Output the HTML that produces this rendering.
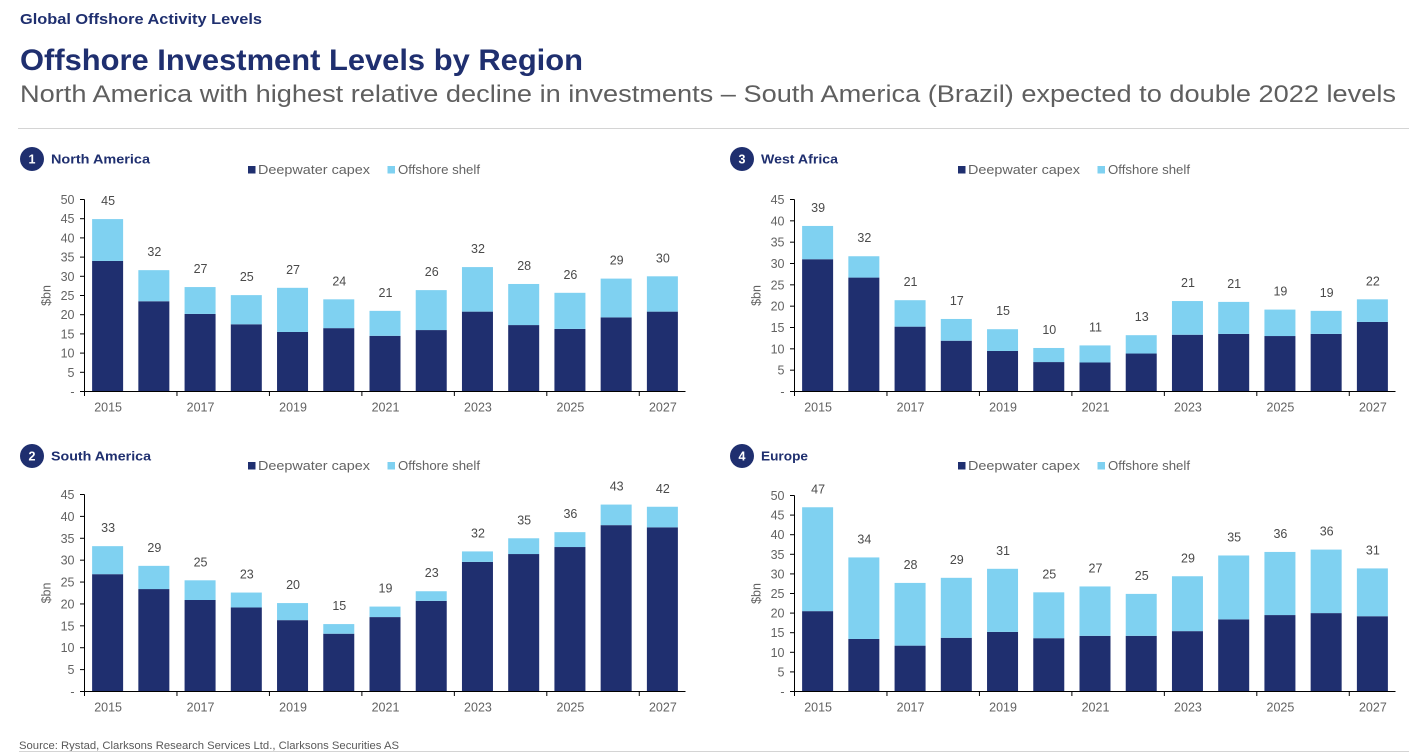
<!DOCTYPE html>
<html lang="en">
<head>
<meta charset="utf-8">
<title>Offshore Investment Levels by Region</title>
<style>
html,body{margin:0;padding:0;background:#fff;width:1409px;height:755px;overflow:hidden}
svg{display:block}
text{font-family:"Liberation Sans",sans-serif}
</style>
</head>
<body>
<svg id="page" xmlns="http://www.w3.org/2000/svg" width="1409" height="755" viewBox="0 0 1409 755">
  <text x="20" y="24" font-size="15" font-weight="700" fill="#1f2f6f" textLength="242" lengthAdjust="spacingAndGlyphs">Global Offshore Activity Levels</text>
  <text x="20" y="70" font-size="30" font-weight="700" fill="#1f2f6f" textLength="563" lengthAdjust="spacingAndGlyphs">Offshore Investment Levels by Region</text>
  <text x="20" y="102" font-size="24" fill="#5f5f5f" textLength="1376" lengthAdjust="spacingAndGlyphs">North America with highest relative decline in investments – South America (Brazil) expected to double 2022 levels</text>
  <line x1="18" y1="128.5" x2="1409" y2="128.5" stroke="#d4d4d4" stroke-width="1"/>
  <g id="charts"></g>
  <text x="19" y="749" font-size="11" fill="#595959" textLength="380" lengthAdjust="spacingAndGlyphs">Source: Rystad, Clarksons Research Services Ltd., Clarksons Securities AS</text>
  <line x1="19" y1="751.5" x2="1409" y2="751.5" stroke="#d4d4d4" stroke-width="1"/>
</svg>
<script>
var categories = ['2015','2016','2017','2018','2019','2020','2021','2022','2023','2024','2025','2026','2027'];

var northAmericaDeepwater = [34, 23.5, 20.2, 17.5, 15.5, 16.5, 14.5, 16, 20.8, 17.3, 16.3, 19.3, 20.8];
var northAmericaShelf = [10.9, 8.1, 7, 7.6, 11.5, 7.5, 6.5, 10.4, 11.6, 10.7, 9.4, 10.1, 9.2];
var northAmericaTicks = ['-','5','10','15','20','25','30','35','40','45','50'];

var southAmericaDeepwater = [26.8, 23.4, 20.9, 19.2, 16.3, 13.2, 17, 20.7, 29.6, 31.4, 33, 38, 37.5];
var southAmericaShelf = [6.4, 5.3, 4.5, 3.4, 3.9, 2.2, 2.4, 2.2, 2.4, 3.6, 3.4, 4.7, 4.7];
var southAmericaTicks = ['-','5','10','15','20','25','30','35','40','45'];

var westAfricaDeepwater = [31, 26.7, 15.2, 11.9, 9.5, 6.9, 6.8, 8.9, 13.3, 13.5, 13, 13.5, 16.3];
var westAfricaShelf = [7.8, 5, 6.2, 5.1, 5.1, 3.3, 4, 4.3, 7.9, 7.5, 6.2, 5.4, 5.3];
var westAfricaTicks = ['-','5','10','15','20','25','30','35','40','45'];

var europeDeepwater = [20.5, 13.4, 11.7, 13.7, 15.2, 13.6, 14.2, 14.2, 15.4, 18.4, 19.5, 20, 19.2];
var europeShelf = [26.5, 20.8, 16, 15.3, 16.1, 11.7, 12.6, 10.7, 14, 16.3, 16.1, 16.2, 12.2];
var europeTicks = ['-','5','10','15','20','25','30','35','40','45','50'];

var seriesNames = ['Deepwater capex', 'Offshore shelf'];
var NAVY = '#1f2f6f';
var SKY = '#7fd1f1';
var SVGNS = 'http://www.w3.org/2000/svg';

function make(parent, tag, attrs, content) {
  var el = document.createElementNS(SVGNS, tag);
  for (var k in attrs) el.setAttribute(k, attrs[k]);
  if (content !== undefined) el.textContent = content;
  parent.appendChild(el);
  return el;
}

function drawPanel(root, opt) {
  var key = opt.key;
  var left = opt.left, right = left + 601, top = opt.top, base = opt.base;
  var maxValue = (opt.ticks.length - 1) * 5;
  var band = (right - left) / categories.length;
  var barWidth = 31;
  function xScale(i) { return left + band * (i + 0.5); }
  function yScale(v) { return base - (v / maxValue) * (base - top); }

  var g = make(root, 'g', {});
  
  

  var badge = make(g, 'circle', {cx: opt.badgeX, cy: opt.headY, r: 12, fill: NAVY});
  
  
  var badgeText = make(g, 'text', {x: opt.badgeX, y: opt.headY + 4.5, 'font-size': 12.5, 'font-weight': 700, fill: '#fff', 'text-anchor': 'middle'}, opt.number);
  
  
  var title = make(g, 'text', {x: opt.badgeX + 19, y: opt.headY + 4.5, 'font-size': 13, 'font-weight': 700, fill: NAVY, textLength: opt.titleWidth, lengthAdjust: 'spacingAndGlyphs'}, opt.title);
  
  

  var lx = left + 163.5, ly = opt.legendY;
  var sw1 = make(g, 'rect', {x: lx, y: ly - 3.5, width: 7.5, height: 7.5, fill: NAVY});
  
  
  var lt1 = make(g, 'text', {x: lx + 10, y: ly + 4.5, 'font-size': 13, fill: '#636363', textLength: 112, lengthAdjust: 'spacingAndGlyphs'}, seriesNames[0]);
  
  
  var sw2 = make(g, 'rect', {x: lx + 139.5, y: ly - 3.5, width: 7.5, height: 7.5, fill: SKY});
  
  
  var lt2 = make(g, 'text', {x: lx + 150, y: ly + 4.5, 'font-size': 13, fill: '#636363', textLength: 82, lengthAdjust: 'spacingAndGlyphs'}, seriesNames[1]);
  
  

  categories.forEach(function (cat, i) {
    var deep = opt.deep[i], shelf = opt.shelf[i];
    var bx = xScale(i) - barWidth / 2;
    var r1 = make(g, 'rect', {x: bx, y: yScale(deep), width: barWidth, height: yScale(0) - yScale(deep), fill: NAVY});
    
    
    var r2 = make(g, 'rect', {x: bx, y: yScale(deep + shelf), width: barWidth, height: yScale(deep) - yScale(deep + shelf), fill: SKY});
    
    
    var t = make(g, 'text', {x: xScale(i) + 0.5, y: yScale(deep + shelf) - 14, 'font-size': 12.5, fill: '#4a4a4a', 'text-anchor': 'middle'}, String(Math.round(deep + shelf)));
    
    
  });

  var yAxis = make(g, 'line', {x1: left, y1: top, x2: left, y2: base, stroke: '#000', 'stroke-width': 1});
  
  
  var xAxis = make(g, 'line', {x1: left - 4.5, y1: base, x2: right, y2: base, stroke: '#000', 'stroke-width': 1});
  
  

  opt.ticks.forEach(function (label, i) {
    var v = i * 5;
    var y = yScale(v);
    var tk = make(g, 'line', {x1: left - 4.5, y1: y, x2: left, y2: y, stroke: '#000', 'stroke-width': 1});
    
    
    var tl = make(g, 'text', {x: left - 10, y: y + 4.5, 'font-size': 12.5, fill: '#636363', 'text-anchor': 'end'}, label);
    
    
  });

  categories.forEach(function (cat, i) {
    if (i % 2 !== 0) return;
    var xt = left + band * i;
    var tk = make(g, 'line', {x1: xt, y1: base, x2: xt, y2: base + 4.5, stroke: '#000', 'stroke-width': 1});
    
    
    var tl = make(g, 'text', {x: xScale(i) + 0.5, y: base + 20, 'font-size': 12.5, fill: '#636363', 'text-anchor': 'middle'}, cat);
    
    
  });

  var yt = make(g, 'text', {x: 0, y: 0, 'font-size': 12.5, fill: '#636363', 'text-anchor': 'middle', transform: 'translate(' + (left - 34) + ' ' + ((top + base) / 2) + ') rotate(-90)'}, '$bn');
  
  
}

var root = document.getElementById('charts');
drawPanel(root, {key: 'north-america', number: '1', title: 'North America', titleWidth: 99, left: 84.5, top: 199.5, base: 391.5, badgeX: 32, headY: 159, legendY: 169.5, ticks: northAmericaTicks, deep: northAmericaDeepwater, shelf: northAmericaShelf});
drawPanel(root, {key: 'south-america', number: '2', title: 'South America', titleWidth: 100, left: 84.5, top: 494.5, base: 691.5, badgeX: 32, headY: 456, legendY: 465.5, ticks: southAmericaTicks, deep: southAmericaDeepwater, shelf: southAmericaShelf});
drawPanel(root, {key: 'west-africa', number: '3', title: 'West Africa', titleWidth: 77, left: 794.5, top: 199.5, base: 391.5, badgeX: 742, headY: 159, legendY: 169.5, ticks: westAfricaTicks, deep: westAfricaDeepwater, shelf: westAfricaShelf});
drawPanel(root, {key: 'europe', number: '4', title: 'Europe', titleWidth: 47, left: 794.5, top: 495.5, base: 691.5, badgeX: 742, headY: 456, legendY: 465.5, ticks: europeTicks, deep: europeDeepwater, shelf: europeShelf});
</script>
</body>
</html>
